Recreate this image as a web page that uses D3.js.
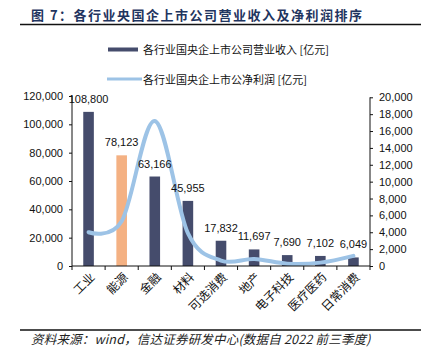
<!DOCTYPE html>
<html>
<head>
<meta charset="utf-8">
<script src="https://cdn.jsdelivr.net/npm/d3@7"></script>
<style>
  body { margin: 0; background: #fff; }
  svg { display: block; font-family: "Liberation Sans", Arial, sans-serif; }
  .cjk { font-family: "Noto Sans CJK SC", sans-serif; }
</style>
</head>
<body>
<div id="chart"></div>
<script>
// industry categories (x axis)
const categories = ["工业", "能源", "金融", "材料", "可选消费", "地产", "电子科技", "医疗医药", "日常消费"];
// revenue of listed SOEs [亿元] (left axis)
const revenue = [108800, 78123, 63166, 45955, 17832, 11697, 7690, 7102, 6049];
// net profit [亿元] (right axis)
const profit = [4000, 5300, 17200, 3900, 650, 830, 280, 400, 1200];
const highlighted = ["能源"];
const leftTicks = [0, 20000, 40000, 60000, 80000, 100000, 120000];
const rightTicks = [0, 2000, 4000, 6000, 8000, 10000, 12000, 14000, 16000, 18000, 20000];

const title = "图 7：各行业央国企上市公司营业收入及净利润排序";
const legendLabels = ["各行业国央企上市公司营业收入 [亿元]", "各行业国央企上市公净利润 [亿元]"];
const source = "资料来源：wind，信达证券研发中心(数据自 2022 前三季度)";

const width = 436, height = 360;
const margin = { top: 96, right: 66, bottom: 94, left: 72 };
const barColor = "#454c6c", hiColor = "#f4b183", lineColor = "#9dc3e6";

const svg = d3.select("#chart").append("svg")
    .attr("width", width)
    .attr("height", height);

// title + rule
svg.append("text")
    .attr("class", "cjk")
    .attr("x", 31)
    .attr("y", 20)
    .style("font-size", "13px")
    .style("font-weight", "bold")
    .style("fill", "#1f3560")
    .style("letter-spacing", "1.5px")
    .text(title);
svg.append("line")
    .attr("x1", 20).attr("x2", 421)
    .attr("y1", 24.5).attr("y2", 24.5)
    .style("stroke", "#111").style("stroke-width", 1.6);

// scales
const x = d3.scaleBand()
    .domain(categories)
    .range([margin.left, width - margin.right])
    .padding(0);
const yLeft = d3.scaleLinear()
    .domain([0, 120000])
    .range([height - margin.bottom, margin.top]);
const yRight = d3.scaleLinear()
    .domain([0, 20000])
    .range([height - margin.bottom, margin.top + 1.3]);

const barW = x.bandwidth() * 0.32;
const fmt = d3.format(",");

// bars
svg.append("g").selectAll("rect")
    .data(categories)
    .join("rect")
    .attr("x", d => x(d) + x.bandwidth() / 2 - barW / 2)
    .attr("y", (d, i) => yLeft(revenue[i]))
    .attr("width", barW)
    .attr("height", (d, i) => yLeft(0) - yLeft(revenue[i]))
    .attr("fill", d => highlighted.includes(d) ? hiColor : barColor);

// net profit curve
const line = d3.line()
    .x((d, i) => x(categories[i]) + x.bandwidth() / 2)
    .y(d => yRight(d))
    .curve(d3.curveCatmullRom.alpha(0));
svg.append("path")
    .datum(profit)
    .attr("d", line)
    .attr("fill", "none")
    .attr("stroke", lineColor)
    .attr("stroke-width", 4)
    .attr("stroke-linecap", "round");

// bar value labels
svg.append("g").selectAll("text")
    .data(categories)
    .join("text")
    .attr("x", d => x(d) + x.bandwidth() / 2)
    .attr("y", (d, i) => yLeft(revenue[i]) - 9)
    .attr("text-anchor", "middle")
    .style("font-size", "11px")
    .style("fill", "#111")
    .text((d, i) => fmt(revenue[i]));

// axes
const leftAxis = svg.append("g")
    .attr("transform", `translate(${margin.left},0)`)
    .call(d3.axisLeft(yLeft).tickValues(leftTicks).tickFormat(fmt).tickSize(3).tickPadding(6));
const rightAxis = svg.append("g")
    .attr("transform", `translate(${width - margin.right},0)`)
    .call(d3.axisRight(yRight).tickValues(rightTicks).tickFormat(fmt).tickSize(3).tickPadding(6));
[leftAxis, rightAxis].forEach(a => {
    a.select(".domain").attr("d", a === leftAxis
        ? `M0,${yLeft(0)}V${margin.top}`
        : `M0,${yRight(0)}V${margin.top + 1.3}`);
    a.selectAll("text").style("font-size", "11px").style("fill", "#111")
        .style("font-family", "'Liberation Sans', Arial, sans-serif");
    a.selectAll("line, path").style("stroke", "#111");
});

// bottom axis: ticks on category boundaries, rotated labels
const baseY = height - margin.bottom;
const bottom = svg.append("g");
bottom.append("line")
    .attr("x1", margin.left).attr("x2", width - margin.right)
    .attr("y1", baseY).attr("y2", baseY)
    .style("stroke", "#111");
bottom.selectAll(".btick")
    .data(categories.concat([null]))
    .join("line")
    .attr("class", "btick")
    .attr("x1", (d, i) => margin.left + i * x.bandwidth())
    .attr("x2", (d, i) => margin.left + i * x.bandwidth())
    .attr("y1", baseY).attr("y2", baseY + 4)
    .style("stroke", "#111");
bottom.selectAll(".blabel")
    .data(categories)
    .join("text")
    .attr("class", "blabel cjk")
    .attr("transform", d => `translate(${x(d) + x.bandwidth() / 2 + 4},${baseY + 9}) rotate(-45)`)
    .attr("text-anchor", "end")
    .attr("dy", "0.35em")
    .style("font-size", "12px")
    .style("fill", "#111")
    .text(d => d);

// legend
const legend = svg.append("g");
legend.append("rect")
    .attr("x", 108).attr("y", 47.5)
    .attr("width", 30).attr("height", 4)
    .attr("fill", barColor);
legend.append("line")
    .attr("x1", 107).attr("x2", 142)
    .attr("y1", 79).attr("y2", 79)
    .attr("stroke", lineColor).attr("stroke-width", 3);
legend.selectAll("text")
    .data(legendLabels)
    .join("text")
    .attr("class", "cjk")
    .attr("x", 143)
    .attr("y", (d, i) => 50 + i * 30)
    .attr("dy", "0.35em")
    .style("font-size", "11px")
    .style("fill", "#111")
    .text(d => d);

// footer
svg.append("line")
    .attr("x1", 20).attr("x2", 421)
    .attr("y1", 330).attr("y2", 330)
    .style("stroke", "#111").style("stroke-width", 1.4);
svg.append("text")
    .attr("class", "cjk")
    .attr("x", 31)
    .attr("y", 340)
    .attr("dy", "0.35em")
    .style("font-size", "12.5px")
    .style("font-style", "italic")
    .style("fill", "#222")
    .style("letter-spacing", "0.2px")
    .text(source);
</script>
</body>
</html>
